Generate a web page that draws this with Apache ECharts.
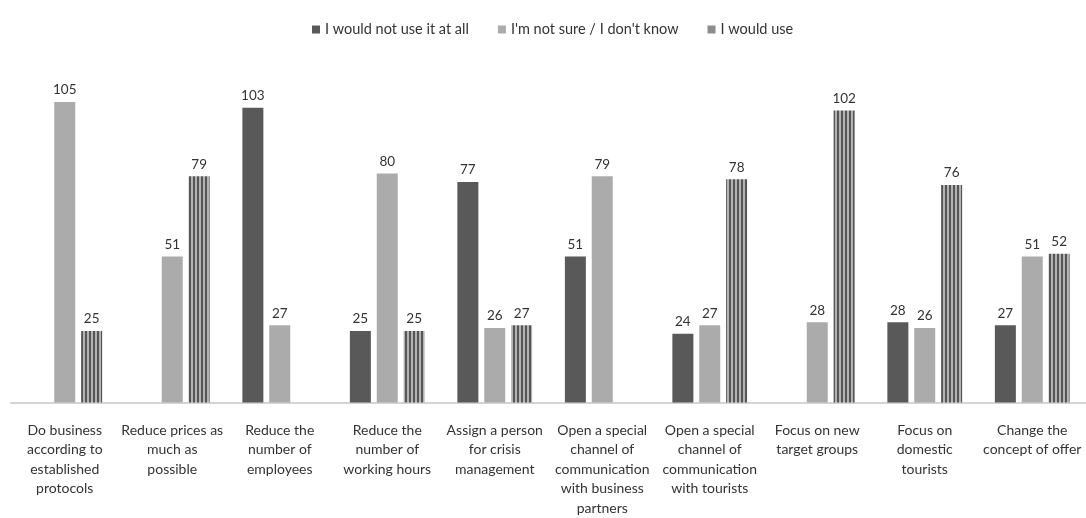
<!DOCTYPE html>
<html>
<head>
<meta charset="utf-8">
<script src="https://cdn.jsdelivr.net/npm/echarts@6/dist/echarts.min.js"></script>
<style>
html,body{margin:0;padding:0;background:#fff;}
#chart{width:1086px;height:518px;}
</style>
</head>
<body>
<div id="chart"></div>
<script>
var categories = [
  "Do business\naccording to\nestablished\nprotocols",
  "Reduce prices as\nmuch as\npossible",
  "Reduce the\nnumber of\nemployees",
  "Reduce the\nnumber of\nworking hours",
  "Assign a person\nfor crisis\nmanagement",
  "Open a special\nchannel of\ncommunication\nwith business\npartners",
  "Open a special\nchannel of\ncommunication\nwith tourists",
  "Focus on new\ntarget groups",
  "Focus on\ndomestic\ntourists",
  "Change the\nconcept of offer"
];
var seriesNames = ["I would not use it at all", "I'm not sure / I don't know", "I would use"];
var wouldNotUse = [null, null, 103, 25, 77, 51, 24, null, 28, 27];
var notSure = [105, 51, 27, 80, 26, 79, 27, 28, 26, 51];
var wouldUse = [25, 79, null, 25, 27, null, 78, 102, 76, 52];

var stripe = document.createElement('canvas');
stripe.width = 4; stripe.height = 4;
var sc = stripe.getContext('2d');
sc.fillStyle = '#b3b3b3'; sc.fillRect(0,0,4,4);
sc.fillStyle = '#555555'; sc.fillRect(1,0,2,4);

var FONT = 'Lato';
var labelCfg = {show:true, position:'top', distance:5, color:'#333', fontFamily:FONT, fontSize:13.5};

var chart = echarts.init(document.getElementById('chart'), null, {renderer:'canvas'});
chart.setOption({
  animation:false,
  backgroundColor:'#fff',
  legend:{
    top:17, left:307, itemWidth:8, itemHeight:8, itemGap:29,
    icon:'rect',
    textStyle:{fontFamily:FONT, fontSize:14.5, color:'#333'},
    data:[
      {name:seriesNames[0]},
      {name:seriesNames[1]},
      {name:seriesNames[2], itemStyle:{color:'#8c8c8c'}}
    ]
  },
  grid:{left:11, right:0, top:59, bottom:114},
  xAxis:{
    type:'category', data:categories,
    axisLine:{lineStyle:{color:'#d4d4d4', width:2}},
    axisTick:{show:false},
    axisLabel:{interval:0, margin:18, fontFamily:FONT, fontSize:14, lineHeight:19.5, color:'#333'}
  },
  yAxis:{type:'value', min:0, max:120, show:false, splitLine:{show:false}},
  series:[
    {name:seriesNames[0], type:'bar', data:wouldNotUse, barWidth:21, barGap:'28%',
     itemStyle:{color:'#595959'}, label:labelCfg},
    {name:seriesNames[1], type:'bar', data:notSure, barWidth:21,
     itemStyle:{color:'#ababab'}, label:labelCfg},
    {name:seriesNames[2], type:'bar', data:wouldUse, barWidth:21,
     itemStyle:{color:{image:stripe, repeat:'repeat'}}, label:labelCfg}
  ]
});
</script>
</body>
</html>
